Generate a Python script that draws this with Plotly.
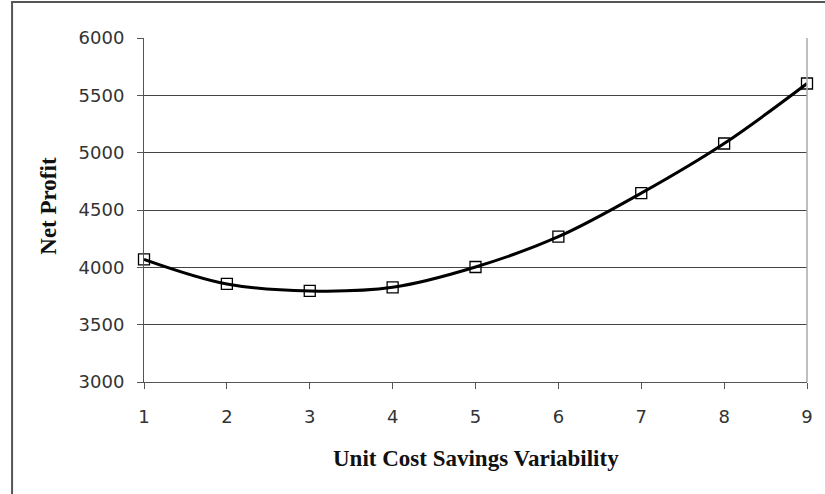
import plotly.graph_objects as go

x_vals = [1, 2, 3, 4, 5, 6, 7, 8, 9]
net_profit = [4070, 3855, 3794, 3826, 4003, 4267, 4647, 5080, 5603]
y_ticks = [3000, 3500, 4000, 4500, 5000, 5500, 6000]

fig = go.Figure()
fig.add_trace(go.Scatter(
    x=x_vals, y=net_profit, mode="lines+markers",
    line=dict(color="black", width=3, shape="spline", smoothing=1),
    marker=dict(symbol="square-open", size=11, color="black", line=dict(width=1.3, color="black")),
    showlegend=False, cliponaxis=False,
))

fig.update_layout(
    width=825, height=494,
    margin=dict(l=144, r=13, t=38, b=112),
    paper_bgcolor="white", plot_bgcolor="white",
    font=dict(family="DejaVu Sans, Liberation Sans, Arial", size=18, color="#333"),
    xaxis=dict(range=[1, 9], tickvals=x_vals, showgrid=False, zeroline=False,
               showline=True, linecolor="#555", linewidth=1,
               ticks="outside", ticklen=6, tickcolor="#555",
               ticklabelstandoff=12),
    yaxis=dict(range=[3000, 6000], tickvals=y_ticks, showgrid=True, gridcolor="#444", gridwidth=1,
               zeroline=False, showline=True, linecolor="#555", linewidth=1,
               ticks="outside", ticklen=6, tickcolor="#555", ticklabelstandoff=9),
    shapes=[
        dict(type="line", xref="paper", yref="paper", x0=1, x1=1, y0=0, y1=1,
             line=dict(color="#aaa", width=1.5)),
        dict(type="rect", xref="paper", yref="paper", x0=-0.199, x1=1.05, y0=-0.35, y1=1.105,
             line=dict(color="#555", width=2)),
    ],
    annotations=[
        dict(text="<b>Unit Cost Savings Variability</b>", xref="paper", yref="paper",
             x=(478 - 144) / 668, y=-(458 - 382) / 344, xanchor="center", yanchor="middle", showarrow=False,
             font=dict(family="Liberation Serif, Times New Roman", size=23, color="#111")),
        dict(text="<b>Net Profit</b>", xref="paper", yref="paper",
             x=(47 - 144) / 668, y=1 - (206 - 38) / 344, xanchor="center", yanchor="middle",
             textangle=-90, showarrow=False,
             font=dict(family="Liberation Serif, Times New Roman", size=23, color="#111")),
    ],
)

fig.write_html("out.html")
